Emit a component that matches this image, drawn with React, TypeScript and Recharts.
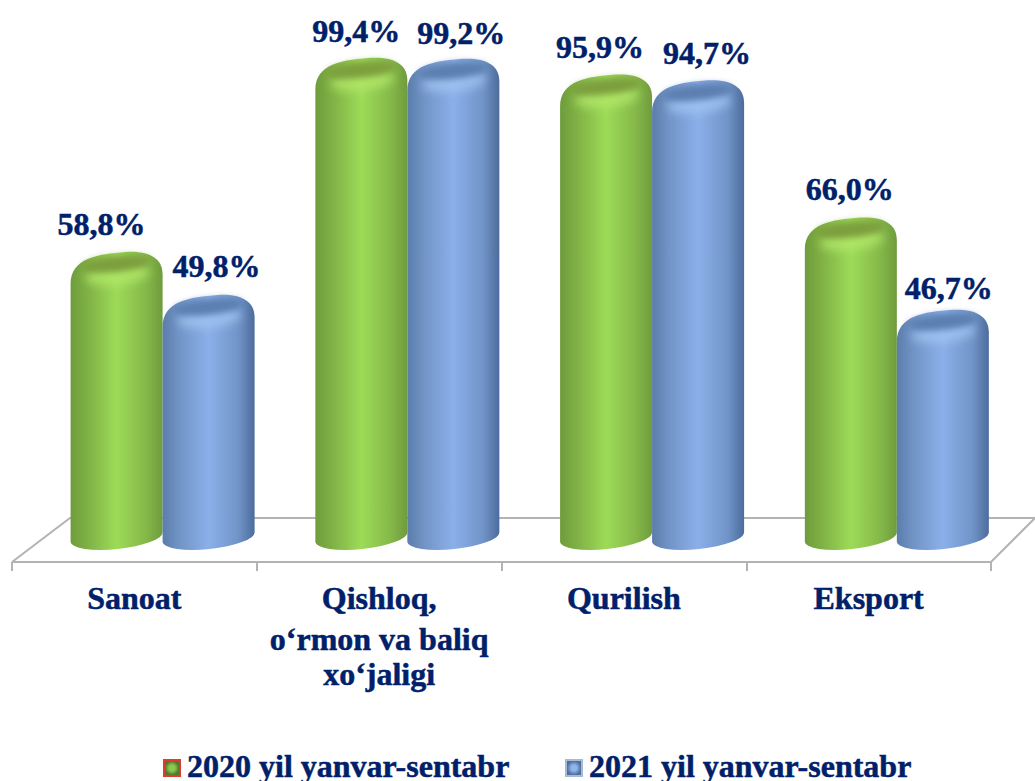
import React from "react";
import { BarChart, Bar, XAxis, YAxis, Legend, LabelList } from "recharts";

const categories = ["Sanoat", "Qishloq,\no‘rmon va baliq\nxo‘jaligi", "Qurilish", "Eksport"];
const series2020 = [58.8, 99.4, 95.9, 66.0];
const series2021 = [49.8, 99.2, 94.7, 46.7];
const seriesNames = ["2020 yil yanvar-sentabr", "2021 yil yanvar-sentabr"];

const rows = categories.map((name, i) => ({ name, a: series2020[i], b: series2021[i] }));

const TEXT = "#00206a";
const FONT = "'Liberation Serif', 'Times New Roman', serif";
const DEPTH_X = 28;
const TOP_LIFT = 13;
const BASE_Y = 537;
const TILT = 6;
const labelNudgeA = [-15, -5, -6, -1];
const labelNudgeB = [8, 8, 9, 6];
const labelDropA = [-1, 0, -1, -2];
const labelDropB = [-2, 1, 0, 5];

function Cylinder(props: any) {
  const { x, y, width, kind } = props;
  const cx = x + width / 2 + DEPTH_X;
  const rx = width / 2;
  const rad = (TILT * Math.PI) / 180;
  const ey = rx * Math.sin(rad);
  const topY = y - TOP_LIFT;
  const L = cx - rx;
  const R = cx + rx;
  const body =
    `M${L} ${BASE_Y + ey} A${rx} 12 ${-TILT} 0 0 ${R} ${BASE_Y - ey} ` +
    `L${R} ${topY + 6} C${R} ${topY - 10} ${cx + rx * 0.7} ${topY - 17} ${cx + rx * 0.2} ${topY - 16} ` +
    `C${cx - rx * 0.4} ${topY - 14} ${L} ${topY - 10} ${L} ${topY + 16} Z`;
  const rot = `rotate(${-TILT} ${cx} ${topY})`;
  const rim = kind === "a" ? "#b4ea6a" : "#a3c6f3";
  const dark = kind === "a" ? "#7d9f3e" : "#5c7fb0";
  return (
    <g filter="url(#soft)">
      <path d={body} fill={`url(#body-${kind})`} />
      <g transform={rot}>
        <ellipse cx={cx} cy={topY + 7} rx={rx - 14} ry={10} fill={rim} opacity={0.75} filter="url(#glow)" />
        <ellipse cx={cx} cy={topY - 4} rx={rx - 11} ry={8} fill={dark} filter="url(#glowSmall)" />
      </g>
    </g>
  );
}

function valueLabel(nudge: number[], drop: number[]) {
  return function ValueLabel(props: any) {
    const { x, y, width, value, index } = props;
    return (
      <text x={x + width / 2 + DEPTH_X + nudge[index]} y={y - 45 + drop[index]} textAnchor="middle" fontFamily={FONT} fontWeight="bold" fontSize={32} fill={TEXT} stroke={TEXT} strokeWidth={0.5}>
        {Number(value).toFixed(1).replace(".", ",") + "%"}
      </text>
    );
  };
}

function CategoryTick(props: any) {
  const { x, payload } = props;
  const lines = String(payload.value).split("\n");
  const step = [0, 41, 76];
  return (
    <text textAnchor="middle" fontFamily={FONT} fontWeight="bold" fontSize={32} fill={TEXT} stroke={TEXT} strokeWidth={0.5}>
      {lines.map((l: string, i: number) => (
        <tspan key={i} x={x} y={609 + step[i]}>{l}</tspan>
      ))}
    </text>
  );
}

function LegendBox() {
  const items = [
    { name: seriesNames[0], left: 163, inner: "#8cc850", outer: "#4f7a2a", border: "#e03b2e" },
    { name: seriesNames[1], left: 565, inner: "#8fb4e8", outer: "#4f6f9f", border: "#a7bad6" },
  ];
  return (
    <div style={{ position: "relative", width: 1035, height: 41, overflow: "hidden" }}>
      {items.map((it) => (
        <div key={it.name} style={{ position: "absolute", left: it.left, top: 0, height: 41, whiteSpace: "nowrap" }}>
          <span style={{ position: "absolute", left: 0, top: 19, width: 14, height: 14, background: `radial-gradient(closest-side, ${it.inner} 40%, ${it.outer})`, border: `2px solid ${it.border}` }} />
          <span style={{ position: "absolute", left: 24, top: 8, lineHeight: "37px", fontFamily: FONT, fontWeight: "bold", fontSize: 32, color: TEXT, WebkitTextStroke: `0.5px ${TEXT}` }}>{it.name}</span>
        </div>
      ))}
    </div>
  );
}

const FLOOR = "#b4b2b2";

export default function App() {
  return (
    <div style={{ position: "absolute", left: 0, top: 0, width: 1035, height: 781, background: "#fff", overflow: "hidden" }}>
      <BarChart width={1035} height={781} data={rows} margin={{ top: 84, right: 44, bottom: 0, left: 12 }} barCategoryGap="12.5%" barGap={0}>
        <defs>
          <filter id="soft" x="-5%" y="-5%" width="110%" height="110%"><feGaussianBlur stdDeviation="0.7" /></filter>
          <filter id="glow" x="-30%" y="-80%" width="160%" height="260%"><feGaussianBlur stdDeviation="5" /></filter>
          <filter id="glowSmall" x="-30%" y="-80%" width="160%" height="260%"><feGaussianBlur stdDeviation="3" /></filter>
          <linearGradient id="body-a" x1="0" y1="0" x2="1" y2="0">
            <stop offset="0" stopColor="#6f9c3c" />
            <stop offset="0.18" stopColor="#7fb045" />
            <stop offset="0.5" stopColor="#9ddb57" />
            <stop offset="0.82" stopColor="#85b84a" />
            <stop offset="1" stopColor="#6f9c3c" />
          </linearGradient>
          <linearGradient id="body-b" x1="0" y1="0" x2="1" y2="0">
            <stop offset="0" stopColor="#5b7dab" />
            <stop offset="0.18" stopColor="#7194c6" />
            <stop offset="0.5" stopColor="#8bafe9" />
            <stop offset="0.82" stopColor="#7194c8" />
            <stop offset="1" stopColor="#4c6c9c" />
          </linearGradient>
        </defs>
        <g fill="none" stroke={FLOOR} strokeWidth={2}>
          <path d="M12 562 L70 518 L1035 518" />
          <path d="M12 562 L991 562 L1036 517" />
          <path d="M12 562 V571 M257 562 V571 M502 562 V571 M747 562 V571 M991 562 V571" />
        </g>
        <XAxis dataKey="name" axisLine={false} tickLine={false} height={219} interval={0} tick={<CategoryTick />} />
        <YAxis hide domain={[0, 100]} />
        <Legend layout="horizontal" verticalAlign="middle" align="center" content={<LegendBox />} wrapperStyle={{ left: 0, top: 740, width: 1035, height: 41, transform: "none", margin: 0 }} />
        <Bar dataKey="a" name={seriesNames[0]} fill="#7fb045" isAnimationActive={false} shape={<Cylinder kind="a" />}>
          <LabelList dataKey="a" content={valueLabel(labelNudgeA, labelDropA)} />
        </Bar>
        <Bar dataKey="b" name={seriesNames[1]} fill="#7194c6" isAnimationActive={false} shape={<Cylinder kind="b" />}>
          <LabelList dataKey="b" content={valueLabel(labelNudgeB, labelDropB)} />
        </Bar>
      </BarChart>
    </div>
  );
}
